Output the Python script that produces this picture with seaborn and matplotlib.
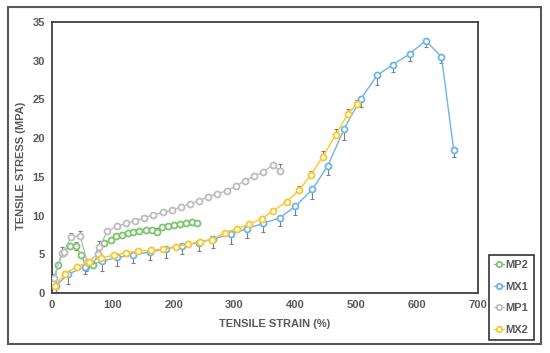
import matplotlib
matplotlib.use("Agg")
import matplotlib.pyplot as plt
from matplotlib.patches import Rectangle
import seaborn as sns

# Datos (deformación %, tensión MPa)
mp2_x = [2, 10, 18, 30, 39, 48, 56, 67, 76, 85, 97, 105, 115, 125, 133, 143, 154, 164, 172, 181, 190, 200, 210, 220, 230, 238]
mp2_y = [1.3, 3.6, 5.2, 6.1, 6.1, 4.9, 3.4, 3.6, 5.1, 6.4, 6.9, 7.3, 7.5, 7.7, 7.9, 8.0, 8.1, 8.1, 7.9, 8.5, 8.7, 8.8, 8.9, 9.0, 9.2, 9.1]
mp2_err_lo = [0, 0.4, 0, 0, 0.5, 0, 0.5, 0, 0, 0, 0, 0, 0, 0, 0, 0, 0, 0, 0, 0, 0, 0, 0, 0, 0, 0]
mp2_err_hi = [0, 0.4, 0, 0, 0.5, 0, 0, 0, 0.5, 0, 0, 0, 0, 0, 0, 0, 0, 0, 0.5, 0, 0, 0, 0, 0, 0, 0]

mx1_x = [6, 26, 54, 82, 107, 133, 161, 187, 213, 241, 265, 294, 320, 347, 374, 400, 428, 453, 480, 507, 534, 560, 588, 614, 640, 660]
mx1_y = [0.9, 2.4, 3.4, 4.1, 4.6, 4.9, 5.3, 5.7, 6.1, 6.5, 7.0, 7.6, 8.3, 9.0, 9.7, 11.2, 13.4, 16.4, 21.2, 25.0, 28.1, 29.5, 30.9, 32.6, 30.5, 18.5]
mx1_err_lo = [0.8, 1.3, 1.0, 1.2, 1.1, 1.0, 1.1, 1.2, 1.0, 1.1, 1.2, 1.3, 1.2, 1.1, 1.0, 1.1, 1.3, 1.2, 1.4, 1.0, 1.2, 1.0, 1.0, 0.8, 0.8, 0.9]
mx1_err_hi = [0.2] * 26

mp1_x = [3, 16, 19, 31, 46, 58, 75, 78, 91, 107, 122, 136, 151, 166, 182, 197, 212, 227, 241, 256, 271, 287, 302, 317, 332, 346, 363, 374]
mp1_y = [1.9, 5.2, 5.3, 7.2, 7.4, 4.0, 5.0, 5.9, 8.0, 8.6, 9.0, 9.3, 9.7, 10.1, 10.4, 10.7, 11.1, 11.5, 11.9, 12.4, 12.8, 13.2, 13.8, 14.5, 15.1, 15.6, 16.5, 15.8]
mp1_err_lo = [0.5, 0, 0, 0, 0, 0.4, 0, 0, 0, 0, 0, 0, 0, 0, 0, 0, 0, 0, 0, 0, 0, 0, 0, 0, 0, 0, 0, 0]
mp1_err_hi = [0.6, 0.7, 0, 0.6, 0.6, 0, 0, 0.8, 0, 0, 0, 0, 0, 0, 0, 0, 0, 0, 0, 0, 0, 0, 0, 0, 0, 0, 0, 0.8]

mx2_x = [5, 21, 41, 61, 80, 102, 122, 142, 162, 183, 203, 223, 243, 263, 284, 304, 324, 345, 363, 386, 406, 425, 445, 466, 486, 501]
mx2_y = [0.9, 2.5, 3.4, 4.0, 4.5, 4.9, 5.2, 5.4, 5.5, 5.7, 6.0, 6.3, 6.6, 6.9, 7.8, 8.3, 8.9, 9.6, 10.6, 11.8, 13.3, 15.2, 17.6, 20.4, 23.1, 24.4]
mx2_err_lo = [0] * 26
mx2_err_hi = [0, 0.4, 0, 0, 0, 0, 0, 0, 0, 0, 0, 0, 0, 0.4, 0, 0, 0, 0, 0, 0, 0.5, 0.6, 0.8, 0.8, 0.7, 0.5]

series = [
    ("MP2", mp2_x, mp2_y, mp2_err_lo, mp2_err_hi, "#7dc56c"),
    ("MX1", mx1_x, mx1_y, mx1_err_lo, mx1_err_hi, "#6db5ea"),
    ("MP1", mp1_x, mp1_y, mp1_err_lo, mp1_err_hi, "#bdbdbd"),
    ("MX2", mx2_x, mx2_y, mx2_err_lo, mx2_err_hi, "#fcc62c"),
]

sns.set_style("white")
plt.rcParams['font.family'] = ['Liberation Sans', 'DejaVu Sans']

fig = plt.figure(figsize=(5.5, 3.53), dpi=100)
ax = fig.add_axes([52 / 550, 60 / 353, 426 / 550, 271 / 353])

for name, xs, ys, lo, hi, col in series:
    ax.errorbar(xs, ys, yerr=[lo, hi], fmt='none', ecolor='#7f7f7f',
                elinewidth=0.8, capsize=1.5, capthick=0.8, zorder=2)
    sns.lineplot(x=xs, y=ys, ax=ax, sort=False, color=col, lw=1.0,
                 marker='o', markersize=4.3, markerfacecolor='white',
                 markeredgecolor=col, markeredgewidth=1.3, label=name, zorder=3)

ax.set_xlim(0, 700)
ax.set_ylim(0, 35)
ax.set_xticks(range(0, 701, 100))
ax.set_yticks(range(0, 36, 5))
ax.tick_params(length=0, labelsize=8, labelcolor='#595959', pad=5)
for lab in ax.get_xticklabels() + ax.get_yticklabels():
    lab.set_fontweight('bold')
for sp in ax.spines.values():
    sp.set_color('#404040')
    sp.set_linewidth(1.3)

ax.set_xlabel('TENSILE STRAIN (%)', fontsize=8, fontweight='bold', color='#595959')
ax.set_ylabel('TENSILE STRESS (MPA)', fontsize=8, fontweight='bold', color='#595959')
ax.xaxis.set_label_coords(0.523, -0.095)
ax.yaxis.set_label_coords(-0.06, 0.47)

leg = ax.legend(loc='upper left', bbox_to_anchor=(489 / 550, 1 - 255 / 353),
                bbox_transform=fig.transFigure, borderaxespad=0, frameon=True,
                fancybox=False, fontsize=8, labelspacing=1.05, handlelength=0.9,
                handletextpad=0.15, borderpad=0.45, markerscale=0.9)
leg.get_frame().set_edgecolor('#000000')
leg.get_frame().set_linewidth(1.2)
for t in leg.get_texts():
    t.set_fontweight('bold')
    t.set_color('#595959')

# Marco exterior
fig.patches.append(Rectangle((8 / 550, 9 / 353), 533 / 550, 337 / 353,
                             transform=fig.transFigure, fill=False,
                             edgecolor='#595959', linewidth=1.5))

fig.savefig('out.png', dpi=100)
